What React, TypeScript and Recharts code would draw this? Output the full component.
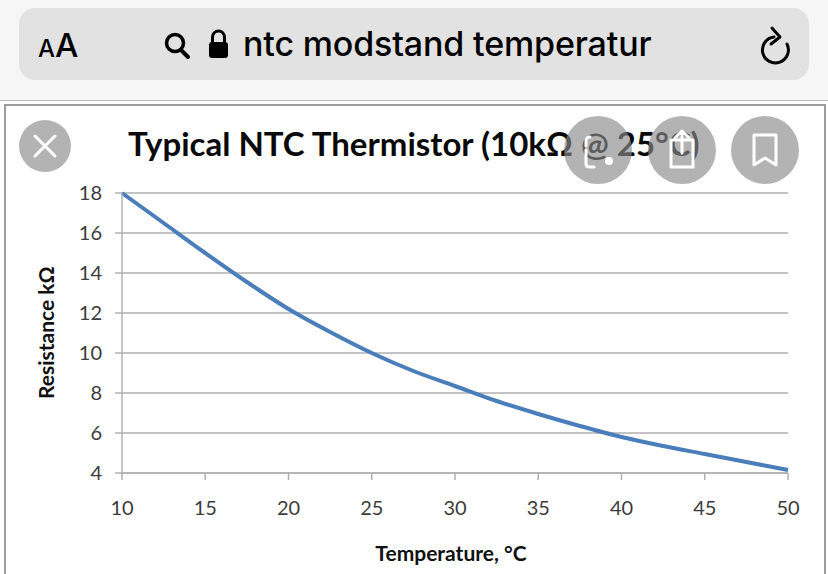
import { LineChart, Line, XAxis, YAxis, CartesianGrid } from 'recharts';

const temperatures = [10, 12.5, 15, 17.5, 20, 22.5, 25, 27.5, 30, 32.5, 35, 37.5, 40, 42.5, 45, 47.5, 50];
const resistances = [18, 16.5, 15, 13.55, 12.2, 11.05, 10, 9.1, 8.35, 7.6, 6.95, 6.35, 5.8, 5.35, 4.95, 4.55, 4.15];
const xTicks = [10, 15, 20, 25, 30, 35, 40, 45, 50];
const yTicks = [4, 6, 8, 10, 12, 14, 16, 18];

const chartData = temperatures.map((t, i) => ({ t, r: resistances[i] }));

const CHART_FONT = 'Lato, "Open Sans", sans-serif';
const UI_FONT = 'Inter, Roboto, sans-serif';

function Overlays() {
  return (
    <svg width={828} height={574} style={{ position: 'absolute', left: 0, top: 0 }}>
      {/* floating image buttons */}
      <g fill="#8a8a8a" fillOpacity={0.65}>
        <circle cx={45} cy={146} r={26} />
        <circle cx={598} cy={150} r={34} />
        <circle cx={682} cy={150} r={34} />
        <circle cx={765} cy={150} r={34} />
      </g>
      <g stroke="#fff" fill="none" strokeWidth={3} strokeLinecap="round" strokeLinejoin="round">
        <path d="M35 136 L55 156 M55 136 L35 156" />
        <path d="M586 150 V164 Q586 167 590 167 H594" />
        <path d="M586 146 V141 Q586 137 590 137" />
        <path d="M671 140 H693 V167 H671 Z" />
        <path d="M682 153 V132 M675 138 L682 131 L689 138" />
        <path d="M754 135 H776 V165 L765 158 L754 165 Z" />
      </g>
      <circle cx={609} cy={161} r={4} fill="#fff" />
    </svg>
  );
}

export default function App() {
  return (
    <div style={{ position: 'fixed', left: 0, top: 0, width: 828, height: 574, overflow: 'hidden', background: '#fff' }}>
      {/* browser bar */}
      <div style={{ position: 'absolute', left: 0, top: 0, width: 828, height: 100, background: '#f6f6f6', borderBottom: '1px solid #bdbdbd' }} />
      <div style={{ position: 'absolute', left: 19, top: 8, width: 790, height: 72, borderRadius: 16, background: '#e2e2e2' }} />
      <div style={{ position: 'absolute', left: 38, top: 27, fontFamily: UI_FONT, fontWeight: 500, color: '#000', lineHeight: '36px', whiteSpace: 'nowrap' }}>
        <span style={{ fontSize: 24 }}>A</span>
        <span style={{ fontSize: 33 }}>A</span>
      </div>
      <div style={{ position: 'absolute', left: 243, top: 24, fontFamily: UI_FONT, fontWeight: 500, fontSize: 34, letterSpacing: -0.15, color: '#000', lineHeight: '40px', whiteSpace: 'nowrap' }}>
        ntc modstand temperatur
      </div>
      <svg width={828} height={100} style={{ position: 'absolute', left: 0, top: 0 }}>
        <circle cx={175} cy={43} r={8.5} fill="none" stroke="#000" strokeWidth={3.5} />
        <path d="M181 50 L188 57" stroke="#000" strokeWidth={4} strokeLinecap="round" />
        <rect x={209} y={42} width={19} height={16} rx={3} fill="#000" />
        <path d="M212.5 43 V37 a6 6 0 0 1 12 0 V43" fill="none" stroke="#000" strokeWidth={3} />
        <path d="M774 37 A13 13 0 1 0 787 44" fill="none" stroke="#000" strokeWidth={3} strokeLinecap="round" />
        <path d="M772 28 L780 37 L771 44" fill="none" stroke="#000" strokeWidth={3} strokeLinecap="round" strokeLinejoin="round" />
      </svg>

      {/* screenshot frame */}
      <div style={{ position: 'absolute', left: 4, top: 104, width: 818, height: 480, border: '2px solid #9c9c9c' }} />

      <div style={{ position: 'absolute', left: 0, top: 0 }}>
        <LineChart
          width={828}
          height={574}
          data={chartData}
          margin={{ top: 193, right: 40, bottom: 41, left: 62 }}
        >
          <CartesianGrid horizontal vertical={false} stroke="#b0b0b0" strokeWidth={1.5} />
          <XAxis
            dataKey="t"
            type="number"
            domain={[10, 50]}
            ticks={xTicks}
            height={60}
            stroke="#b0b0b0"
            strokeWidth={1.5}
            tickSize={7}
            tickMargin={21}
            tick={{ fill: '#3c3c3c', fontSize: 20, fontFamily: CHART_FONT }}
            label={{ value: 'Temperature, °C', position: 'insideBottom', offset: -28, dx: -4, fill: '#111', fontSize: 21, fontWeight: 700, fontFamily: CHART_FONT }}
          />
          <YAxis
            type="number"
            domain={[4, 18]}
            ticks={yTicks}
            width={60}
            stroke="#b0b0b0"
            strokeWidth={1.5}
            tickSize={7}
            tickMargin={13}
            tick={{ fill: '#3c3c3c', fontSize: 20, fontFamily: CHART_FONT }}
            label={{ value: 'Resistance kΩ', angle: -90, position: 'insideLeft', offset: -15, dy: 66, fill: '#111', fontSize: 21, fontWeight: 700, fontFamily: CHART_FONT }}
          />
          <Line
            dataKey="r"
            type="monotone"
            stroke="#4a7ebb"
            strokeWidth={4}
            dot={false}
            isAnimationActive={false}
          />
        </LineChart>
      </div>

      <div style={{ position: 'absolute', left: 128, top: 122, fontFamily: CHART_FONT, fontWeight: 700, fontSize: 33, color: '#0a0a0a', lineHeight: '42px', whiteSpace: 'nowrap' }}>
        Typical NTC Thermistor (10kΩ @ 25°C)
      </div>

      <Overlays />
    </div>
  );
}
